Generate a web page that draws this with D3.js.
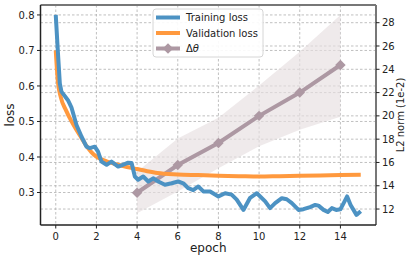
<!DOCTYPE html>
<html><head><meta charset="utf-8">
<script src="https://cdn.jsdelivr.net/npm/d3@7"></script>
<style>body{margin:0;background:#fff}svg{display:block;font-family:"DejaVu Sans",sans-serif}</style>
</head><body><svg id="c" width="410" height="257"></svg>
<script>
const trainEpoch = [0,0.1,0.2,0.28,0.6,0.77,1.02,1.27,1.51,1.67,1.92,2.08,2.25,2.5,2.74,3.07,3.3,3.56,3.73,3.89,4.05,4.3,4.55,4.79,5.04,5.37,5.7,6.02,6.27,6.52,6.76,7.01,7.26,7.59,8.0,8.33,8.65,8.9,9.23,9.56,9.89,10.3,10.54,10.79,11.12,11.36,11.61,11.94,12.18,12.51,12.76,12.92,13.17,13.38,13.58,13.79,14.0,14.16,14.33,14.5,14.79,15.0];
const trainLoss = [0.80,0.70,0.607,0.584,0.56,0.54,0.49,0.457,0.429,0.425,0.429,0.415,0.387,0.378,0.387,0.373,0.378,0.384,0.383,0.345,0.336,0.345,0.331,0.34,0.331,0.322,0.326,0.331,0.326,0.312,0.307,0.317,0.303,0.303,0.289,0.298,0.294,0.28,0.251,0.285,0.298,0.275,0.256,0.27,0.284,0.281,0.27,0.251,0.253,0.259,0.265,0.263,0.251,0.245,0.256,0.251,0.253,0.27,0.289,0.265,0.237,0.247];
const valEpoch = [0,0.1,0.25,0.5,0.75,1,1.25,1.5,1.75,2,2.5,3,3.5,4,4.5,5,6,7,8,9,10,11,12,13,14,15];
const valLoss = [0.70,0.615,0.568,0.532,0.503,0.478,0.455,0.432,0.414,0.401,0.388,0.379,0.372,0.366,0.360,0.355,0.351,0.349,0.347,0.346,0.345,0.346,0.347,0.348,0.349,0.350];
const normEpoch = [4,6,8,10,12,14];
const normMean = [13.4,15.78,17.67,20.0,22.0,24.37];
const normLow = [11.63,13.5,15.5,17.4,18.8,19.93];
const normHigh = [15.2,18.06,19.84,22.6,25.5,28.66];
const xTicks = [0,2,4,6,8,10,12,14];
const yLeftTicks = [0.3,0.4,0.5,0.6,0.7,0.8];
const yRightTicks = [12,14,16,18,20,22,24,26,28];

const svg = d3.select("#c");
const L=40.5,R=376,T=5,B=225;
const x = d3.scaleLinear().domain([-0.75,15.75]).range([L,R]);
const yL = d3.scaleLinear().domain([0.2085,0.828]).range([B,T]);
const yR = d3.scaleLinear().domain([10.63,29.52]).range([B,T]);

const cBlue="#4c92c3", cOrange="#ff993e", cMauve="#ad98a3", cBand="#e6dee1";

// grid
const g = svg.append("g").attr("stroke","#b0b0b0").attr("stroke-width",0.8).attr("stroke-dasharray","2.5,2");
xTicks.forEach(t=>g.append("line").attr("x1",x(t)).attr("x2",x(t)).attr("y1",T).attr("y2",B));
yLeftTicks.forEach(t=>g.append("line").attr("x1",L).attr("x2",R).attr("y1",yL(t)).attr("y2",yL(t)));
yRightTicks.forEach(t=>g.append("line").attr("x1",L).attr("x2",R).attr("y1",yR(t)).attr("y2",yR(t)));

// band
const bandData = normEpoch.map((e,i)=>({e,lo:normLow[i],hi:normHigh[i]}));
svg.append("path").datum(bandData)
  .attr("d",d3.area().x(d=>x(d.e)).y0(d=>yR(d.lo)).y1(d=>yR(d.hi)))
  .attr("fill",cBand).attr("fill-opacity",0.65);
const normData = normEpoch.map((e,i)=>({e,v:normMean[i]}));
svg.append("path").datum(normData)
  .attr("d",d3.line().x(d=>x(d.e)).y(d=>yR(d.v)))
  .attr("fill","none").attr("stroke",cMauve).attr("stroke-width",4);
svg.selectAll(".dm").data(normData).enter().append("path")
  .attr("transform",d=>`translate(${x(d.e)},${yR(d.v)})`)
  .attr("d",d3.symbol().type(d3.symbolDiamond2).size(70)).attr("fill",cMauve);

// loss lines
const tData = trainEpoch.map((e,i)=>({e,v:trainLoss[i]}));
const vData = valEpoch.map((e,i)=>({e,v:valLoss[i]}));
svg.append("path").datum(vData)
  .attr("d",d3.line().curve(d3.curveMonotoneX).x(d=>x(d.e)).y(d=>yL(d.v)))
  .attr("fill","none").attr("stroke",cOrange).attr("stroke-width",4);
svg.append("path").datum(tData)
  .attr("d",d3.line().x(d=>x(d.e)).y(d=>yL(d.v)))
  .attr("fill","none").attr("stroke",cBlue).attr("stroke-width",4).attr("stroke-linejoin","round");

// spines
svg.append("line").attr("x1",L).attr("x2",R).attr("y1",T).attr("y2",T).attr("stroke","#777").attr("stroke-width",2);
svg.append("line").attr("x1",R).attr("x2",R).attr("y1",T).attr("y2",B).attr("stroke","#777").attr("stroke-width",2);
svg.append("line").attr("x1",L).attr("x2",L).attr("y1",T).attr("y2",B).attr("stroke","#222").attr("stroke-width",1.5);
svg.append("line").attr("x1",L).attr("x2",R).attr("y1",B).attr("y2",B).attr("stroke","#222").attr("stroke-width",1.5);

// axes
const fmt = d3.format(".1f");
const ax = svg.append("g").attr("font-size",10).attr("fill","#222");
xTicks.forEach(t=>{
  ax.append("line").attr("x1",x(t)).attr("x2",x(t)).attr("y1",B).attr("y2",B+3.5).attr("stroke","#222");
  ax.append("text").attr("x",x(t)).attr("y",B+15).attr("text-anchor","middle").text(t);
});
yLeftTicks.forEach(t=>{
  ax.append("line").attr("x1",L-3.5).attr("x2",L).attr("y1",yL(t)).attr("y2",yL(t)).attr("stroke","#222");
  ax.append("text").attr("x",L-6).attr("y",yL(t)+3.6).attr("text-anchor","end").text(fmt(t));
});
yRightTicks.forEach(t=>{
  ax.append("line").attr("x1",R).attr("x2",R+3.5).attr("y1",yR(t)).attr("y2",yR(t)).attr("stroke","#222");
  ax.append("text").attr("x",R+6).attr("y",yR(t)+3.6).attr("text-anchor","start").text(t);
});
svg.append("text").attr("x",(L+R)/2).attr("y",252).attr("text-anchor","middle").attr("font-size",12).attr("fill","#222").text("epoch");
svg.append("text").attr("transform",`translate(14,${(T+B)/2}) rotate(-90)`).attr("text-anchor","middle").attr("font-size",12).attr("fill","#222").text("loss");
svg.append("text").attr("transform",`translate(404,${(T+B)/2}) rotate(-90)`).attr("text-anchor","middle").attr("font-size",10).attr("fill","#222").text("L2 norm (1e-2)");

// legend
const lg = svg.append("g");
lg.append("rect").attr("x",153).attr("y",9).attr("width",110).attr("height",48).attr("rx",3)
  .attr("fill","#fff").attr("fill-opacity",0.9).attr("stroke","#ccc").attr("stroke-width",0.8);
const items=[{t:"Training loss",c:cBlue},{t:"Validation loss",c:cOrange},{t:"Δθ",c:cMauve,m:true}];
items.forEach((it,i)=>{
  const yy=17.5+i*15.5;
  lg.append("line").attr("x1",156).attr("x2",180).attr("y1",yy).attr("y2",yy).attr("stroke",it.c).attr("stroke-width",4);
  if(it.m) lg.append("path").attr("transform",`translate(168,${yy})`).attr("d",d3.symbol().type(d3.symbolDiamond2).size(70)).attr("fill",it.c);
  const tx = lg.append("text").attr("x",186).attr("y",yy+3.6).attr("font-size",10).attr("fill","#222");
  if(it.m){ tx.append("tspan").text("Δ"); tx.append("tspan").attr("font-style","italic").text("θ"); }
  else tx.text(it.t);
});
</script></body></html>
